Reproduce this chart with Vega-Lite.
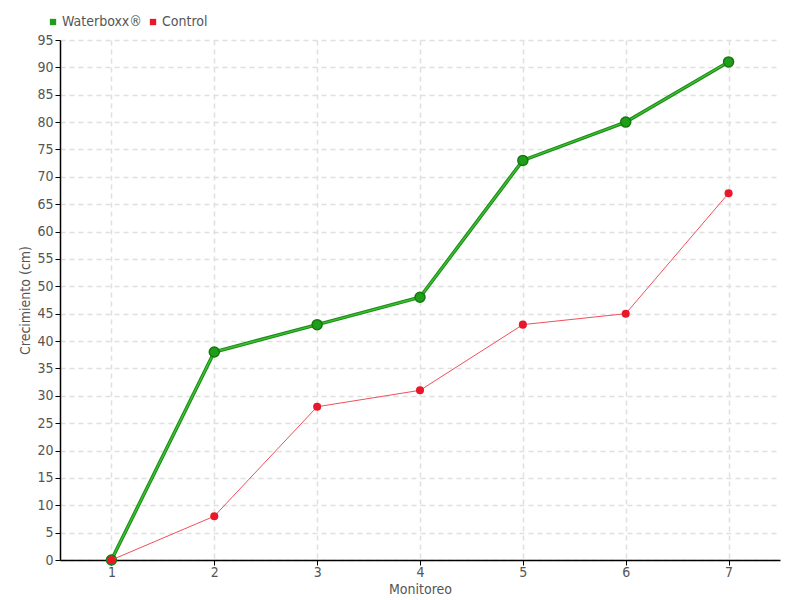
{
  "$schema": "https://vega.github.io/schema/vega-lite/v6.json",
  "width": 720,
  "height": 520,
  "autosize": {"type": "none"},
  "padding": {"left": 60, "top": 40, "right": 20, "bottom": 40},
  "background": "white",
  "config": {
    "font": "DejaVu Sans Condensed, Roboto, sans-serif",
    "view": {"stroke": null},
    "axis": {
      "labelFont": "DejaVu Sans Condensed, Roboto, sans-serif",
      "titleFont": "DejaVu Sans Condensed, Roboto, sans-serif",
      "labelFontSize": 14,
      "titleFontSize": 14,
      "labelColor": "#555555",
      "titleColor": "#555555",
      "titleFontWeight": "normal",
      "domainColor": "#000000",
      "domainWidth": 1.5,
      "tickColor": "#000000",
      "tickSize": 5,
      "gridColor": "#e0e0e0",
      "gridDash": [5, 4],
      "gridWidth": 1.5
    },
    "legend": {
      "labelFont": "DejaVu Sans Condensed, Roboto, sans-serif",
      "labelFontSize": 14,
      "labelColor": "#555555"
    }
  },
  "data": {
    "values": [
      {"m": 1, "serie": "Waterboxx®", "v": 0},
      {"m": 2, "serie": "Waterboxx®", "v": 38},
      {"m": 3, "serie": "Waterboxx®", "v": 43},
      {"m": 4, "serie": "Waterboxx®", "v": 48},
      {"m": 5, "serie": "Waterboxx®", "v": 73},
      {"m": 6, "serie": "Waterboxx®", "v": 80},
      {"m": 7, "serie": "Waterboxx®", "v": 91},
      {"m": 1, "serie": "Control", "v": 0},
      {"m": 2, "serie": "Control", "v": 8},
      {"m": 3, "serie": "Control", "v": 28},
      {"m": 4, "serie": "Control", "v": 31},
      {"m": 5, "serie": "Control", "v": 43},
      {"m": 6, "serie": "Control", "v": 45},
      {"m": 7, "serie": "Control", "v": 67}
    ]
  },
  "encoding": {
    "x": {
      "field": "m",
      "type": "ordinal",
      "scale": {"type": "point", "padding": 0.5},
      "axis": {"title": "Monitoreo", "labelAngle": 0, "grid": true, "titlePadding": 3, "labelPadding": 0}
    },
    "y": {
      "field": "v",
      "type": "quantitative",
      "scale": {"domain": [0, 95], "nice": false},
      "axis": {
        "title": "Crecimiento (cm)",
        "values": [0,5,10,15,20,25,30,35,40,45,50,55,60,65,70,75,80,85,90,95],
        "grid": true,
        "labelPadding": 2,
        "titlePadding": 4
      }
    },
    "color": {
      "field": "serie",
      "type": "nominal",
      "scale": {"domain": ["Waterboxx®", "Control"], "range": ["#1f9e1a", "#e8182a"]},
      "legend": {
        "title": null,
        "orient": "none",
        "legendX": -14,
        "legendY": -25,
        "direction": "horizontal",
        "symbolType": "square",
        "symbolSize": 40,
        "symbolStrokeWidth": 0,
        "columnPadding": 4,
        "labelOffset": 2
      }
    }
  },
  "layer": [
    {
      "transform": [{"filter": "datum.serie === 'Waterboxx®'"}],
      "mark": {"type": "line", "strokeWidth": 3.5},
      "encoding": {"color": {"value": "#1a8a16"}}
    },
    {
      "transform": [{"filter": "datum.serie === 'Waterboxx®'"}],
      "mark": {"type": "line", "strokeWidth": 1.5},
      "encoding": {"color": {"value": "#3cbf30"}}
    },
    {
      "transform": [{"filter": "datum.serie === 'Waterboxx®'"}],
      "mark": {"type": "point", "filled": true, "size": 100, "stroke": "#17780f", "strokeWidth": 1.5, "opacity": 1}
    },
    {
      "transform": [{"filter": "datum.serie === 'Control'"}],
      "mark": {"type": "line", "strokeWidth": 1},
      "encoding": {"color": {"value": "#f0505a"}}
    },
    {
      "transform": [{"filter": "datum.serie === 'Control'"}],
      "mark": {"type": "point", "filled": true, "size": 65, "opacity": 1}
    }
  ]
}
